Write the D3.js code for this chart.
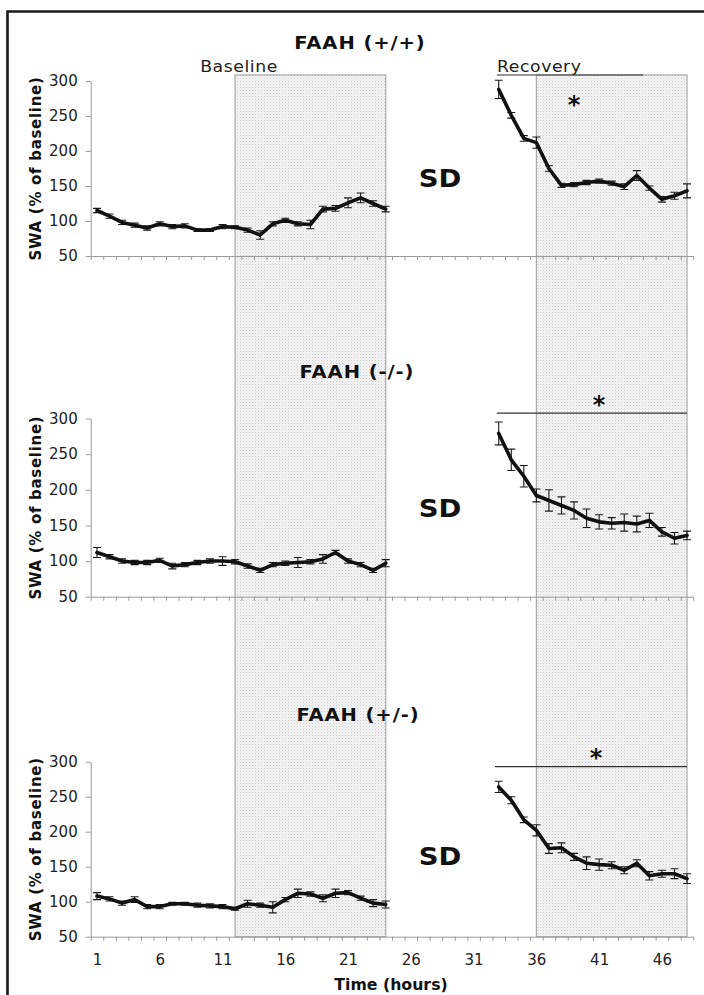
<!DOCTYPE html>
<html>
<head>
<meta charset="utf-8">
<script src="https://cdn.jsdelivr.net/npm/d3@7"></script>
<style>
  html, body { margin: 0; padding: 0; background: #fff; }
  svg { display: block; font-family: "DejaVu Sans", Verdana, sans-serif; }
</style>
</head>
<body>
<svg id="chart" width="704" height="995"></svg>
<script>
// ---------------- data ----------------
const panelTitles = ["FAAH (+/+)", "FAAH (-/-)", "FAAH (+/-)"];
const hoursBaseline = [1,2,3,4,5,6,7,8,9,10,11,12,13,14,15,16,17,18,19,20,21,22,23,24];
const hoursRecovery = [33,34,35,36,37,38,39,40,41,42,43,44,45,46,47,48];

const wtBaseline    = [115,107,98,94,90,96,92,93,87,87,92,91,87,80,96,101,96,95,117,118,126,133,125,117];
const wtBaselineErr = [3,3,3,3,3,3,3,3,2,2,3,2,3,6,3,3,3,6,4,4,7,7,4,4];
const wtRecovery    = [288,251,218,212,175,151,152,155,157,154,149,165,147,131,136,143];
const wtRecoveryErr = [13,4,4,8,4,3,3,3,3,3,4,7,3,4,5,10];

const koBaseline    = [112,106,100,98,98,101,93,95,98,100,100,99,93,87,95,97,98,99,103,112,100,95,87,97];
const koBaselineErr = [7,3,3,3,3,3,4,3,3,3,6,3,3,3,3,3,7,3,6,3,3,3,3,5];
const koRecovery    = [279,242,219,192,185,178,171,160,155,153,154,152,157,141,132,136];
const koRecoveryErr = [16,15,15,9,15,12,12,13,10,8,12,11,10,6,8,6];

const hetBaseline    = [108,104,98,103,93,93,97,97,95,94,93,90,97,95,92,103,112,111,105,112,113,105,98,96];
const hetBaselineErr = [5,3,3,4,3,3,2,2,3,3,3,2,5,3,8,3,6,3,5,6,3,3,5,5];
const hetRecovery    = [264,245,217,202,176,177,164,155,153,152,145,155,137,140,140,133];
const hetRecoveryErr = [8,5,4,8,7,7,5,9,8,5,5,5,6,5,7,7];

const yTicks = [50,100,150,200,250,300];
const xTickLabels = [1,6,11,16,21,26,31,36,41,46];
const shadedPeriods = [[12,24],[36,48]];       // dark periods (hours)
const sigSpans = [[32.85,44.5],[32.85,48],[32.7,48]]; // significance lines (hours)
const sigLevels = [308.6, 307.6, 293];           // level of significance line (y units)

// ---------------- layout ----------------
const svg = d3.select("#chart");
const x = d3.scaleLinear().domain([0.5, 48.5]).range([90.7, 693.3]);
const panelRanges = [[256, 81], [596.7, 418.5], [936.7, 761.7]];
const ys = panelRanges.map(r => d3.scaleLinear().domain([50, 300]).range(r));

const series = [
  {base: wtBaseline, baseErr: wtBaselineErr, rec: wtRecovery, recErr: wtRecoveryErr},
  {base: koBaseline, baseErr: koBaselineErr, rec: koRecovery, recErr: koRecoveryErr},
  {base: hetBaseline, baseErr: hetBaselineErr, rec: hetRecovery, recErr: hetRecoveryErr}
];

// helper: horizontally widened text (original uses a wide Verdana-like face)
function wideText(px, py, sx, txt, attrs) {
  const t = svg.append("text")
    .attr("transform", `translate(${px},${py}) scale(${sx},1)`)
    .attr("x", 0).attr("y", 0).text(txt);
  Object.entries(attrs).forEach(([k, v]) => t.attr(k, v));
  return t;
}

// pattern for shaded areas
const defs = svg.append("defs");
const pat = defs.append("pattern").attr("id", "dots")
  .attr("width", 3).attr("height", 3).attr("patternUnits", "userSpaceOnUse");
pat.append("rect").attr("width", 3).attr("height", 3).attr("fill", "#f4f4f4");
pat.append("rect").attr("width", 1).attr("height", 1).attr("fill", "#cdcdcd");
pat.append("rect").attr("x", 1.5).attr("y", 1.5).attr("width", 1).attr("height", 1).attr("fill", "#e0e0e0");

// outer frame
svg.append("path")
  .attr("d", "M7.5,995 L7.5,11.5 L704,11.5")
  .attr("fill", "none").attr("stroke", "#1a1a1a").attr("stroke-width", 2.6);

// shaded boxes spanning all panels
const boxTop = ys[0](308.6), boxBottom = ys[2](50);
svg.selectAll("rect.shade").data(shadedPeriods).enter().append("rect")
  .attr("class", "shade")
  .attr("x", d => x(d[0])).attr("width", d => x(d[1]) - x(d[0]))
  .attr("y", boxTop).attr("height", boxBottom - boxTop)
  .attr("fill", "url(#dots)").attr("stroke", "#a9a9a9").attr("stroke-width", 1.2);

const line = d3.line().x(d => x(d[0])).curve(d3.curveLinear);

series.forEach((s, i) => {
  const y = ys[i];
  const g = svg.append("g");

  // y axis
  const yAxis = g.append("g").attr("transform", `translate(${x(0.5)},0)`)
    .call(d3.axisLeft(y).tickValues(yTicks).tickSize(5).tickSizeOuter(0).tickPadding(8));
  yAxis.select(".domain").attr("stroke", "#9a9a9a");
  yAxis.selectAll(".tick line").attr("stroke", "#9a9a9a");
  yAxis.selectAll(".tick text").attr("font-size", 15).attr("fill", "#222")
    .attr("font-family", "DejaVu Sans");

  // x axis with ticks between categories
  const boundaries = d3.range(0.5, 48.51, 1);
  const xAxis = g.append("g").attr("transform", `translate(0,${y(50)})`)
    .call(d3.axisBottom(x).tickValues(boundaries).tickSize(4).tickSizeOuter(0).tickFormat(""));
  xAxis.select(".domain").attr("stroke", "#9a9a9a");
  xAxis.selectAll(".tick line").attr("stroke", "#9a9a9a");

  if (i === 2) {
    const lab = g.append("g").attr("transform", `translate(0,${y(50)})`)
      .call(d3.axisBottom(x).tickValues(xTickLabels).tickSize(0).tickPadding(18).tickFormat(d3.format("d")));
    lab.select(".domain").remove();
    lab.selectAll(".tick text").attr("font-size", 15).attr("fill", "#222")
      .attr("font-family", "DejaVu Sans");
  }

  // y axis title
  const yMid = (y(50) + y(300)) / 2;
  g.append("text")
    .attr("transform", `translate(41,${yMid}) rotate(-90)`)
    .attr("text-anchor", "middle").attr("font-size", 15).attr("font-weight", "bold")
    .attr("letter-spacing", 0.7).attr("fill", "#111")
    .text("SWA (% of baseline)");

  // data segments
  const segs = [
    hoursBaseline.map((h, k) => [h, s.base[k], s.baseErr[k]]),
    hoursRecovery.map((h, k) => [h, s.rec[k], s.recErr[k]])
  ];
  segs.forEach(seg => {
    const eb = g.append("g").attr("stroke", "#1a1a1a").attr("stroke-width", 1.1).attr("fill", "none");
    seg.forEach(d => {
      const cx = x(d[0]), y1 = y(d[1] - d[2]), y2 = y(d[1] + d[2]);
      eb.append("path").attr("d", `M${cx},${y1}V${y2}M${cx-4},${y1}H${cx+4}M${cx-4},${y2}H${cx+4}`);
    });
    g.append("path").datum(seg)
      .attr("d", line.y(d => y(d[1])))
      .attr("fill", "none").attr("stroke", "#111").attr("stroke-width", 3.6)
      .attr("stroke-linejoin", "round").attr("stroke-linecap", "round");
  });

  // significance line
  const sl = sigSpans[i];
  g.append("line")
    .attr("x1", x(sl[0])).attr("x2", x(sl[1]))
    .attr("y1", y(sigLevels[i])).attr("y2", y(sigLevels[i]))
    .attr("stroke", "#333").attr("stroke-width", 1.2);
});

// titles
const titleY = [49, 378, 721];
const titleX = [360, 357, 358];
panelTitles.forEach((t, i) => {
  wideText(titleX[i], titleY[i], 1.15, t, {
    "text-anchor": "middle", "font-size": 17, "font-weight": "bold",
    "letter-spacing": 0.8, "fill": "#111"
  });
});

// SD labels
[187, 517, 865].forEach(yy => {
  wideText(440, yy, 1.1, "SD", {
    "text-anchor": "middle", "font-size": 25, "font-weight": "bold", "fill": "#111"
  });
});

// asterisks
[[574, 112.5], [599, 412.5], [596, 765.5]].forEach(p => {
  svg.append("text").attr("x", p[0]).attr("y", p[1])
    .attr("text-anchor", "middle").attr("font-size", 24).attr("font-weight", "bold")
    .attr("fill", "#111").text("*");
});

// Baseline / Recovery labels
wideText(239, 72, 1.15, "Baseline", {
  "text-anchor": "middle", "font-size": 15, "letter-spacing": 0.5, "fill": "#222"
});
wideText(497, 72, 1.15, "Recovery", {
  "text-anchor": "start", "font-size": 15, "letter-spacing": 0.5, "fill": "#222"
});

// x axis title
wideText(391, 990, 1.05, "Time (hours)", {
  "text-anchor": "middle", "font-size": 15, "font-weight": "bold", "fill": "#111"
});
</script>
</body>
</html>
